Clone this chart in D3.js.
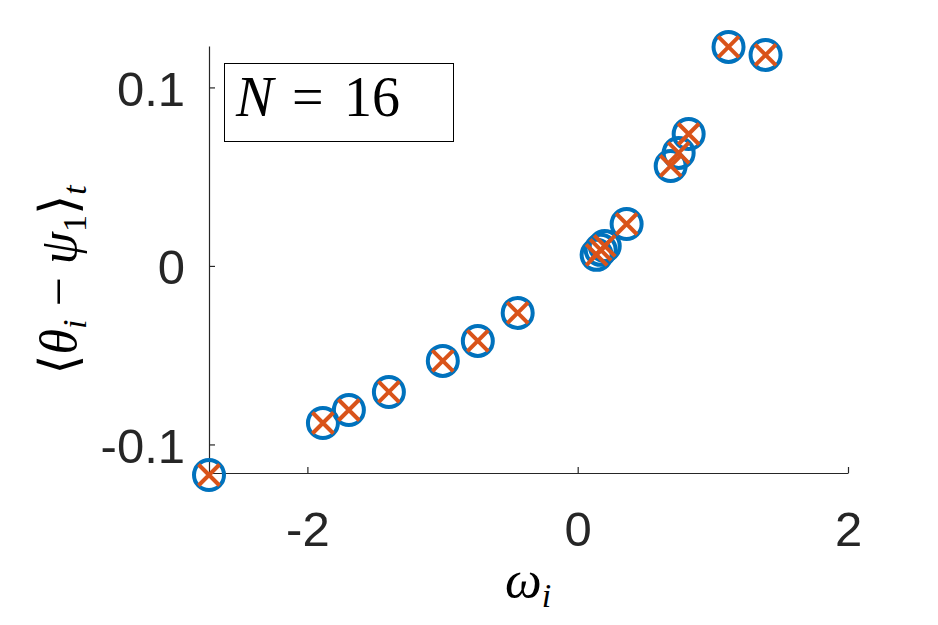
<!DOCTYPE html>
<html><head><meta charset="utf-8">
<script src="https://cdn.jsdelivr.net/npm/d3@7"></script>
<style>body{margin:0;background:#fff}svg{display:block}</style>
</head><body>
<script>
const omega = [-2.728,-1.885,-1.693,-1.397,-0.998,-0.739,-0.444,0.140,0.170,0.200,0.362,0.688,0.747,0.821,1.116,1.390];
const phase = [-0.1171,-0.0880,-0.0807,-0.0706,-0.0532,-0.0420,-0.0263,0.0062,0.0090,0.0112,0.0235,0.0560,0.0633,0.0739,0.1227,0.1182];
const xTicks = [-2,0,2];
const xTickLabels = ["-2","0","2"];
const yTicks = [-0.1,0,0.1];
const yTickLabels = ["-0.1","0","0.1"];
const legendText = "16";

const W=938,H=625;
const L=209,R=848,T=46,B=473;
const svg=d3.select("body").append("svg").attr("width",W).attr("height",H);
const x=d3.scaleLinear().domain([-2.728,2]).range([L,R]);
const y=d3.scaleLinear().domain([-0.116,0.1232]).range([B,T]);
const axCol="#262626";

const xa=svg.append("g").attr("transform",`translate(0,${B})`)
  .call(d3.axisBottom(x).tickValues(xTicks).tickSizeInner(-6).tickSizeOuter(0).tickPadding(38).tickFormat((d,i)=>xTickLabels[i]));
const ya=svg.append("g").attr("transform",`translate(${L},0)`)
  .call(d3.axisLeft(y).tickValues(yTicks).tickSizeInner(-6).tickSizeOuter(0).tickPadding(24).tickFormat((d,i)=>yTickLabels[i]));
[xa,ya].forEach(g=>{
  g.select(".domain").attr("stroke",axCol).attr("stroke-width",1.2);
  g.selectAll(".tick line").attr("stroke",axCol).attr("stroke-width",1.2);
  g.selectAll(".tick text").attr("fill",axCol).attr("font-family","Liberation Sans, Arial, sans-serif").attr("font-size",49);
});
xa.selectAll(".tick text").attr("dy","0.71em");
ya.selectAll(".tick text").attr("dy","0.36em");

const data=omega.map((w,i)=>({w,p:phase[i]}));
const g=svg.append("g");
g.selectAll("circle").data(data).join("circle")
  .attr("cx",d=>x(d.w)).attr("cy",d=>y(d.p)).attr("r",15)
  .attr("fill","none").attr("stroke","#0072BD").attr("stroke-width",4);
const s=10.5;
g.selectAll("path.x").data(data).join("path").attr("class","x")
  .attr("d",d=>{const cx=x(d.w),cy=y(d.p);return `M${cx-s},${cy-s}L${cx+s},${cy+s}M${cx-s},${cy+s}L${cx+s},${cy-s}`;})
  .attr("stroke","#D95319").attr("stroke-width",4).attr("fill","none");

// legend box
svg.append("rect").attr("x",224.5).attr("y",63.5).attr("width",229).attr("height",78)
  .attr("fill","#fff").attr("stroke","#000").attr("stroke-width",1);
const lf="Liberation Serif, DejaVu Serif, serif";
svg.append("text").attr("x",236).attr("y",116).attr("font-family",lf).attr("font-size",56).attr("font-style","italic").text("N");
svg.append("text").attr("x",292).attr("y",116).attr("font-family",lf).attr("font-size",56).text("=");
svg.append("text").attr("x",344).attr("y",116).attr("font-family",lf).attr("font-size",56).text(legendText);

// x label
const xl=svg.append("text").attr("x",528).attr("y",597).attr("text-anchor","middle")
  .attr("font-family",lf).attr("font-size",52).attr("fill","#000");
xl.append("tspan").attr("font-style","italic").text("ω");
xl.append("tspan").attr("font-style","italic").attr("font-size",34).attr("dy",10).text("i");

// y label
const yl=svg.append("text").attr("transform","translate(76,280) rotate(-90)").attr("text-anchor","middle")
  .attr("font-family",lf).attr("font-size",52).attr("fill","#000");
yl.append("tspan").text("⟨");
yl.append("tspan").attr("font-style","italic").text("θ");
yl.append("tspan").attr("font-style","italic").attr("font-size",34).attr("dy",10).text("i");
yl.append("tspan").attr("dy",-10).text(" − ");
yl.append("tspan").attr("font-style","italic").text("ψ");
yl.append("tspan").attr("font-size",34).attr("dy",10).text("1");
yl.append("tspan").attr("dy",-10).text("⟩");
yl.append("tspan").attr("font-style","italic").attr("font-size",34).attr("dy",10).text("t");
</script>
</body></html>
